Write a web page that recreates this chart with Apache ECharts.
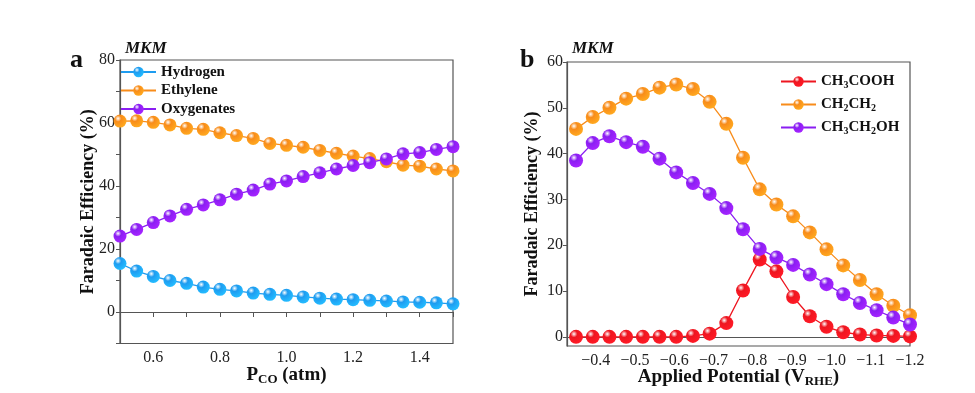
<!DOCTYPE html>
<html><head><meta charset="utf-8">
<script src="https://cdn.jsdelivr.net/npm/echarts@6/dist/echarts.min.js"></script>
<style>html,body{margin:0;padding:0;background:#fff}#c{width:975px;height:393px}</style>
</head><body><div id="c"></div>
<script>
// Panel a: P_CO (atm)
var pco = [0.5,0.55,0.6,0.65,0.7,0.75,0.8,0.85,0.9,0.95,1.0,1.05,1.1,1.15,1.2,1.25,1.3,1.35,1.4,1.45,1.5];
var hydrogen = [15.4,13.0,11.3,10.0,9.1,7.9,7.2,6.7,6.0,5.6,5.3,4.8,4.4,4.1,3.9,3.7,3.5,3.2,3.1,2.9,2.6];
var ethylene = [60.6,60.7,60.2,59.4,58.3,58.0,56.9,56.0,55.1,53.5,52.9,52.3,51.3,50.4,49.5,48.7,47.7,46.6,46.3,45.4,44.8];
var oxygenates = [24.1,26.2,28.4,30.5,32.6,34.0,35.6,37.4,38.7,40.6,41.6,43.0,44.2,45.4,46.5,47.4,48.6,50.2,50.6,51.6,52.5];
var aXTicks = [0.6,0.8,1.0,1.2,1.4];
var aYTicks = [0,20,40,60,80];

// Panel b: Applied potential (V_RHE)
var potential = [-0.35,-0.3925,-0.435,-0.4775,-0.52,-0.5625,-0.605,-0.6475,-0.69,-0.7325,-0.775,-0.8175,-0.86,-0.9025,-0.945,-0.9875,-1.03,-1.0725,-1.115,-1.1575,-1.2];
var acetic = [0,0,0,0,0,0,0,0.2,0.7,3.0,10.1,16.9,14.3,8.7,4.5,2.2,1.0,0.5,0.3,0.2,0.1];
var ch2ch2 = [45.4,48.0,50.0,52.0,53.0,54.4,55.1,54.1,51.3,46.5,39.1,32.2,28.9,26.3,22.8,19.1,15.6,12.4,9.3,6.8,4.7];
var ethanol = [38.5,42.3,43.8,42.5,41.5,38.9,35.9,33.6,31.2,28.1,23.5,19.2,17.3,15.7,13.6,11.5,9.3,7.4,5.8,4.2,2.7];
var bXTicks = [-0.4,-0.5,-0.6,-0.7,-0.8,-0.9,-1.0,-1.1,-1.2];
var bYTicks = [0,10,20,30,40,50,60];

var FONT = '"Liberation Serif","Times New Roman",serif';
var C_BLUE = '#1e9cf0', C_ORANGE = '#f88c1a', C_PURPLE = '#8a1ef2', C_RED = '#ee1620';

function ball(c) {
  return new echarts.graphic.RadialGradient(0.35, 0.3, 0.7, [
    {offset: 0, color: '#ffffff'},
    {offset: 0.35, color: c},
    {offset: 1, color: echarts.color.lift(c, -0.2)}
  ]);
}
function pairs(xs, ys) { return xs.map(function (x, i) { return [x, ys[i]]; }); }
function mkSeries(name, xs, ys, c, xi, size) {
  return {
    type: 'line', name: name, xAxisIndex: xi, yAxisIndex: xi,
    data: pairs(xs, ys), symbol: 'circle', symbolSize: size,
    lineStyle: {color: c, width: 1.3}, itemStyle: {color: ball(c), borderWidth: 0},
    emphasis: {disabled: true}, z: 3
  };
}
var axisLineStyle = {show: true, lineStyle: {color: '#555', width: 1.2}};
var tickLabel = {fontFamily: FONT, fontSize: 16, color: '#222'};
var subRich = {
  n: {fontFamily: FONT, fontSize: 15, fontWeight: 'bold', color: '#111', lineHeight: 18},
  s: {fontFamily: FONT, fontSize: 10, fontWeight: 'bold', color: '#111', lineHeight: 10, verticalAlign: 'bottom', padding: [7, 0, 0, 0]}
};
var nameRich = {
  n: {fontFamily: FONT, fontSize: 19, fontWeight: 'bold', color: '#111', lineHeight: 22},
  s: {fontFamily: FONT, fontSize: 13, fontWeight: 'bold', color: '#111', lineHeight: 13, verticalAlign: 'bottom', padding: [9, 0, 0, 0]}
};
var bNames = {'CH3COOH': '{n|CH}{s|3}{n|COOH}', 'CH2CH2': '{n|CH}{s|2}{n|CH}{s|2}', 'CH3CH2OH': '{n|CH}{s|3}{n|CH}{s|2}{n|OH}'};

var chart = echarts.init(document.getElementById('c'), null, {renderer: 'canvas'});
chart.setOption({
  backgroundColor: '#fff',
  animation: false,
  title: [
    {text: 'MKM', left: 125, top: 40, padding: 0, textStyle: {fontFamily: FONT, fontSize: 17, fontWeight: 'bold', fontStyle: 'italic', color: '#111'}},
    {text: 'MKM', left: 572, top: 40, padding: 0, textStyle: {fontFamily: FONT, fontSize: 17, fontWeight: 'bold', fontStyle: 'italic', color: '#111'}},
    {text: 'a', left: 70, top: 47, padding: 0, textStyle: {fontFamily: FONT, fontSize: 26, fontWeight: 'bold', color: '#111'}},
    {text: 'b', left: 520, top: 47, padding: 0, textStyle: {fontFamily: FONT, fontSize: 26, fontWeight: 'bold', color: '#111'}}
  ],
  legend: [
    {data: ['Hydrogen', 'Ethylene', 'Oxygenates'], orient: 'vertical', left: 120, top: 64.5, padding: 0, itemWidth: 35, itemHeight: 13, itemGap: 3.5,
     textStyle: {fontFamily: FONT, fontSize: 15, fontWeight: 'bold', color: '#111'}, selectedMode: false},
    {data: ['CH3COOH', 'CH2CH2', 'CH3CH2OH'], orient: 'vertical', left: 780, top: 73.5, padding: 0, itemWidth: 35, itemHeight: 13, itemGap: 6,
     formatter: function (n) { return bNames[n]; },
     textStyle: {fontFamily: FONT, fontSize: 15, fontWeight: 'bold', color: '#111', rich: subRich}, selectedMode: false}
  ],
  grid: [
    {left: 120, top: 60, width: 333, height: 283.5, outerBoundsMode: 'none', containLabel: false, show: true, borderColor: '#555', borderWidth: 1.2, backgroundColor: 'transparent'},
    {left: 567, top: 62, width: 343, height: 284, outerBoundsMode: 'none', containLabel: false, show: true, borderColor: '#555', borderWidth: 1.2, backgroundColor: 'transparent'}
  ],
  xAxis: [
    {type: 'value', gridIndex: 0, min: 0.5, max: 1.5, splitLine: {show: false}, axisLine: axisLineStyle,
     axisTick: {show: true, inside: false, length: 5, customValues: [0.5,0.6,0.7,0.8,0.9,1.0,1.1,1.2,1.3,1.4,1.5], lineStyle: {color: '#555'}},
     axisLabel: Object.assign({customValues: aXTicks, margin: 6, formatter: function (v) { return v.toFixed(1); }}, tickLabel),
     name: '{n|P}{s|CO}{n| (atm)}', nameLocation: 'middle', nameGap: 21, nameMoveOverlap: false,
     nameTextStyle: {fontFamily: FONT, fontSize: 19, fontWeight: 'bold', color: '#111', rich: nameRich}},
    {type: 'value', gridIndex: 1, inverse: true, min: -1.2, max: -0.327, splitLine: {show: false}, axisLine: axisLineStyle,
     axisTick: {show: false},
     axisLabel: Object.assign({customValues: bXTicks, margin: 7, formatter: function (v) { return '\u2212' + Math.abs(v).toFixed(1); }}, tickLabel),
     name: '{n|Applied Potential (V}{s|RHE}{n|)}', nameLocation: 'middle', nameGap: 20, nameMoveOverlap: false,
     nameTextStyle: {fontFamily: FONT, fontSize: 19, fontWeight: 'bold', color: '#111', rich: nameRich}}
  ],
  yAxis: [
    {type: 'value', gridIndex: 0, min: -10, max: 80, splitLine: {show: false}, axisLine: axisLineStyle,
     axisTick: {show: true, length: 4, customValues: [-10,0,10,20,30,40,50,60,70,80], lineStyle: {color: '#555'}},
     axisLabel: Object.assign({customValues: aYTicks, margin: 5}, tickLabel),
     name: 'Faradaic Efficiency (%)', nameLocation: 'middle', nameGap: 23, nameMoveOverlap: false,
     nameTextStyle: {fontFamily: FONT, fontSize: 18, fontWeight: 'bold', color: '#111'}},
    {type: 'value', gridIndex: 1, min: -2, max: 60, splitLine: {show: false}, axisLine: axisLineStyle,
     axisTick: {show: true, length: 4, customValues: [0,10,20,30,40,50,60], lineStyle: {color: '#555'}},
     axisLabel: Object.assign({customValues: bYTicks, margin: 4}, tickLabel),
     name: 'Faradaic Efficiency (%)', nameLocation: 'middle', nameGap: 26, nameMoveOverlap: false,
     nameTextStyle: {fontFamily: FONT, fontSize: 18, fontWeight: 'bold', color: '#111'}}
  ],
  series: [
    mkSeries('Hydrogen', pco, hydrogen, C_BLUE, 0, 13),
    mkSeries('Ethylene', pco, ethylene, C_ORANGE, 0, 13),
    mkSeries('Oxygenates', pco, oxygenates, C_PURPLE, 0, 13),
    mkSeries('CH3COOH', potential, acetic, C_RED, 1, 14),
    mkSeries('CH2CH2', potential, ch2ch2, C_ORANGE, 1, 14),
    mkSeries('CH3CH2OH', potential, ethanol, C_PURPLE, 1, 14)
  ]
});
</script>
</body></html>
